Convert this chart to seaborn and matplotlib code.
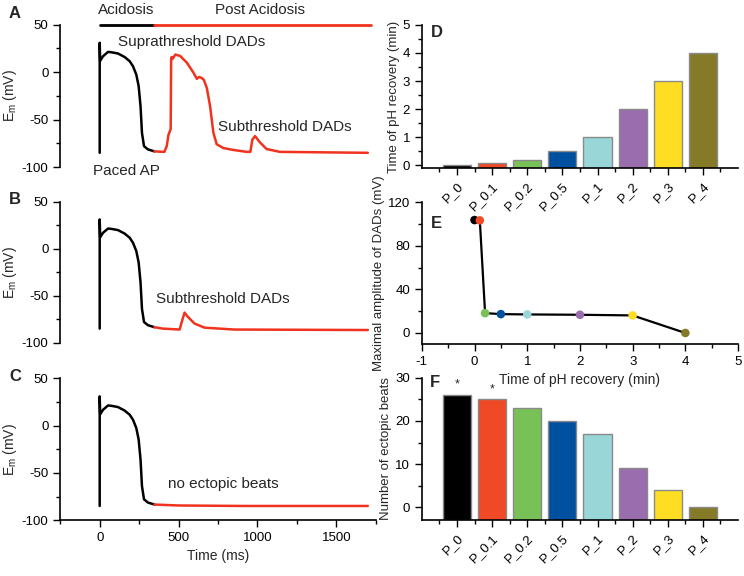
import matplotlib
matplotlib.use("Agg")
import matplotlib.pyplot as plt
from matplotlib.ticker import MultipleLocator
import seaborn as sns
import numpy as np

sns.set_style("ticks")
plt.rcParams['font.family'] = ['Liberation Sans', 'DejaVu Sans']
plt.rcParams['font.size'] = 9
plt.rcParams['axes.unicode_minus'] = False
plt.rcParams['mathtext.default'] = 'regular'

ap_t = [0, 0, 3, 21, 53, 74, 116, 158, 190, 211, 232, 247, 259, 268, 281, 306, 347]
ap_v = [-85, 31, 12, 16.8, 21.4, 21, 19.7, 16, 11.6, 6.3, -2.5, -14.7, -36, -64, -78, -81.4, -83.5]

a_t = [347, 410, 425, 436, 450, 453, 456, 462, 480, 511, 553, 595, 616, 630, 645, 660,
       679, 700, 721, 742, 784, 848, 932, 955, 968, 985, 1016, 1058, 1142, 1700]
a_v = [-83.5, -84, -78, -66, -60, 13, 16, 14, 18.6, 17, 10, -0.7, -7, -5, -6, -8,
       -16.5, -36, -64, -76, -80, -82, -84, -84, -71, -67.4, -74, -81, -84, -85]

b_t = [347, 400, 507, 520, 538, 559, 601, 665, 855, 1700]
b_v = [-83.5, -85, -86, -78, -68, -72.5, -79.6, -84, -86, -86.5]

c_t = [347, 500, 900, 1700]
c_v = [-83.5, -84.5, -85, -85]

acid_t = [0, 345]
post_t = [345, 1720]
bar_level = [50, 50]

# ---- panels D-F
groups = ["P_0", "P_0.1", "P_0.2", "P_0.5", "P_1", "P_2", "P_3", "P_4"]
colors = ["#000000", "#ef4a25", "#78c157", "#0050a0", "#98d6d7", "#9a6dae", "#fedd22", "#857a28"]
recovery = [0, 0.1, 0.2, 0.5, 1, 2, 3, 4]
max_amp = [103.6, 103.3, 18.2, 17.3, 17.0, 16.7, 16.1, 0]
ectopic = [26, 25, 23, 20, 17, 9, 4, 0]

red = "#f0321e"
fig = plt.figure(figsize=(7.44, 5.76), dpi=100)


def style_axes(ax, bottom=True):
    ax.set_facecolor('none')
    sns.despine(ax=ax, top=True, right=True, bottom=not bottom)
    ax.tick_params(which='major', direction='out', length=5, width=1, colors='black', labelsize=9.5)
    ax.tick_params(which='minor', direction='out', length=3, width=1, colors='black')
    for s in ax.spines.values():
        s.set_linewidth(1.2)
        s.set_color('black')


def trace_panel(rect, red_t, red_v, with_x=False):
    ax = fig.add_axes(rect)
    sns.lineplot(x=ap_t, y=ap_v, sort=False, estimator=None, color='black', lw=1.8, ax=ax)
    sns.lineplot(x=red_t, y=red_v, sort=False, estimator=None, color=red, lw=1.8, ax=ax)
    ax.set_xlim(-250, 1750)
    ax.set_ylim(-100, 50)
    ax.yaxis.set_major_locator(MultipleLocator(50))
    ax.yaxis.set_minor_locator(MultipleLocator(25))
    ax.set_ylabel("E$_{m}$ (mV)", fontsize=10, labelpad=2)
    style_axes(ax, bottom=with_x)
    if with_x:
        ax.xaxis.set_major_locator(MultipleLocator(500))
        ax.xaxis.set_minor_locator(MultipleLocator(250))
        ax.set_xlabel("Time (ms)", fontsize=10)
    else:
        ax.set_xticks([])
        ax.set_xlabel("")
    return ax


axA = trace_panel([0.081, 0.710, 0.424, 0.247], a_t, a_v)
axA.plot(acid_t, bar_level, color='black', lw=2, clip_on=False)
axA.plot(post_t, bar_level, color=red, lw=2, clip_on=False)
axA.text(170, 58, "Acidosis", ha='center', va='bottom', fontsize=11)
axA.text(1017, 58, "Post Acidosis", ha='center', va='bottom', fontsize=11)
axA.text(580, 32, "Suprathreshold DADs", ha='center', va='center', fontsize=11)
axA.text(750, -58, "Subthreshold DADs", ha='left', va='center', fontsize=11)
axA.text(-40, -104, "Paced AP", ha='left', va='center', fontsize=11, clip_on=False)

axB = trace_panel([0.081, 0.405, 0.424, 0.245], b_t, b_v)
axB.text(359, -53, "Subthreshold DADs", ha='left', va='center', fontsize=11)

axC = trace_panel([0.081, 0.097, 0.424, 0.246], c_t, c_v, with_x=True)
axC.text(435, -62, "no ectopic beats", ha='left', va='center', fontsize=11)

for lab, y in zip("ABC", [0.990, 0.667, 0.360]):
    fig.text(0.012, y, lab, fontsize=12, fontweight='bold', va='top')


def bar_panel(rect, values, ymin, ymax, major, minor, ylabel):
    ax = fig.add_axes(rect)
    sns.barplot(x=groups, y=values, hue=groups, palette=colors, legend=False, saturation=1,
                width=0.8, edgecolor='#8a8a8a', linewidth=1, ax=ax)
    for p in ax.patches:
        h = p.get_height()
        p.set_y(ymin)
        p.set_height(h - ymin)
    ax.set_xlim(-1, 8)
    ax.set_ylim(ymin, ymax)
    ax.set_xticks(range(8))
    ax.set_xticks(np.arange(-0.5, 8, 1), minor=True)
    ax.set_xticklabels(groups, rotation=45, ha='right', rotation_mode='anchor')
    ax.yaxis.set_major_locator(MultipleLocator(major))
    ax.yaxis.set_minor_locator(MultipleLocator(minor))
    ax.set_ylabel(ylabel, fontsize=9.5, labelpad=2)
    style_axes(ax)
    return ax


axD = bar_panel([0.567, 0.708, 0.425, 0.249], recovery, -0.1, 5, 1, 0.5,
                "Time of pH recovery (min)")
axD.text(0.028, 1.0, "D", transform=axD.transAxes, fontsize=12, fontweight='bold', va='top')

axE = fig.add_axes([0.567, 0.403, 0.425, 0.246])
sns.lineplot(x=recovery, y=max_amp, sort=False, estimator=None, color='black', lw=1.6, ax=axE)
sns.scatterplot(x=recovery, y=max_amp, hue=groups, palette=colors, legend=False,
                s=38, edgecolor='none', zorder=3, ax=axE)
axE.set_xlim(-1, 5)
axE.set_ylim(-10, 120)
axE.xaxis.set_major_locator(MultipleLocator(1))
axE.xaxis.set_minor_locator(MultipleLocator(0.5))
axE.yaxis.set_major_locator(MultipleLocator(40))
axE.yaxis.set_minor_locator(MultipleLocator(20))
axE.set_xlabel("Time of pH recovery (min)", fontsize=10)
axE.set_ylabel("Maximal amplitude of DADs (mV)", fontsize=9.5, labelpad=2)
style_axes(axE)
axE.text(0.028, 0.9, "E", transform=axE.transAxes, fontsize=12, fontweight='bold', va='top')

axF = bar_panel([0.567, 0.097, 0.425, 0.247], ectopic, -3, 30, 10, 5,
                "Number of ectopic beats")
axF.text(0, 27, "*", ha='center', va='bottom', fontsize=9)
axF.text(1, 26, "*", ha='center', va='bottom', fontsize=9)
axF.text(0.025, 1.02, "F", transform=axF.transAxes, fontsize=12, fontweight='bold', va='top')

fig.savefig("out.png", dpi=100)
